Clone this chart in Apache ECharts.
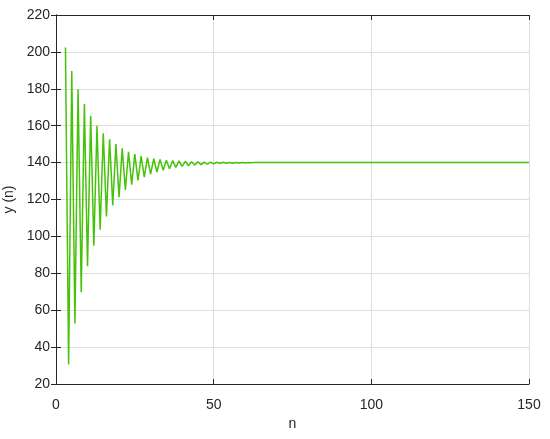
<!DOCTYPE html>
<html>
<head>
<meta charset="utf-8">
<script src="https://cdn.jsdelivr.net/npm/echarts@6/dist/echarts.min.js"></script>
<style>
html,body{margin:0;padding:0;background:#fff;}
#chart{width:550px;height:439px;}
</style>
</head>
<body>
<div id="chart"></div>
<script>
const firstN = 3;
const yValues = [
  202.4, 30.6, 189.7, 52.8, 179.7, 69.7, 171.7, 83.8, 165.4, 95.0,
  160.0, 103.6, 155.9, 110.8, 152.6, 116.8, 150.0, 121.3, 147.7, 125.2,
  145.9, 128.0, 144.6, 130.3, 143.5, 132.1, 142.7, 133.7, 142.1, 134.9,
  141.7, 135.9, 141.3, 136.7, 141.1, 137.4, 140.9, 137.9, 140.7, 138.3,
  140.5, 138.7, 140.4, 138.9, 140.3, 139.1, 140.3, 139.3, 140.2, 139.5,
  140.2, 139.6, 140.1, 139.7, 140.1, 139.8, 140.1, 139.8, 140.0, 139.9,
  140, 140, 140, 140, 140, 140, 140, 140, 140, 140, 140,
  140, 140, 140, 140, 140, 140, 140, 140, 140, 140, 140,
  140, 140, 140, 140, 140, 140, 140, 140, 140, 140, 140,
  140, 140, 140, 140, 140, 140, 140, 140, 140, 140, 140,
  140, 140, 140, 140, 140, 140, 140, 140, 140, 140, 140,
  140, 140, 140, 140, 140, 140, 140, 140, 140, 140, 140,
  140, 140, 140, 140, 140, 140, 140, 140, 140, 140, 140,
  140, 140, 140, 140, 140, 140, 140, 140, 140, 140, 140
];
const xTicks = [0, 50, 100, 150];
const yTicks = [20, 40, 60, 80, 100, 120, 140, 160, 180, 200, 220];
const xName = 'n';
const yName = 'y (n)';

const seriesData = yValues.map((v, i) => [firstN + i, v]);

const fontFamily = '"Liberation Sans", Arial, sans-serif';
const textColor = '#262626';
const gridColor = '#dedede';

const chart = echarts.init(document.getElementById('chart'), null, {renderer: 'canvas'});
const axisLineStyle = {show: true, lineStyle: {color: textColor, width: 1}};
chart.setOption({
  animation: false,
  backgroundColor: '#ffffff',
  grid: {left: 56, right: 21, top: 15, bottom: 55, containLabel: false, outerBoundsMode: 'none'},
  xAxis: [{
    type: 'value',
    min: xTicks[0], max: xTicks[xTicks.length - 1], interval: 50,
    name: xName, nameLocation: 'middle', nameGap: 33,
    nameTextStyle: {color: textColor, fontSize: 14, fontFamily: fontFamily},
    axisLine: axisLineStyle,
    axisTick: {show: true, inside: true, length: 5, lineStyle: {color: textColor}},
    axisLabel: {color: textColor, fontSize: 14, fontFamily: fontFamily, margin: 14},
    splitLine: {show: true, lineStyle: {color: gridColor, width: 1}}
  }, {
    type: 'value', position: 'top',
    min: xTicks[0], max: xTicks[xTicks.length - 1], interval: 50,
    axisLine: axisLineStyle,
    axisTick: {show: true, inside: true, length: 5, lineStyle: {color: textColor}},
    axisLabel: {show: false}, splitLine: {show: false}
  }],
  yAxis: [{
    type: 'value',
    min: yTicks[0], max: yTicks[yTicks.length - 1], interval: 20,
    name: yName, nameLocation: 'middle', nameGap: 32, nameRotate: 90,
    nameTextStyle: {color: textColor, fontSize: 14, fontFamily: fontFamily},
    axisLine: axisLineStyle,
    axisTick: {show: true, inside: true, length: 5, lineStyle: {color: textColor}},
    axisLabel: {color: textColor, fontSize: 14, fontFamily: fontFamily, margin: 6},
    splitLine: {show: true, lineStyle: {color: gridColor, width: 1}}
  }, {
    type: 'value', position: 'right',
    min: yTicks[0], max: yTicks[yTicks.length - 1], interval: 20,
    axisLine: axisLineStyle,
    axisTick: {show: true, inside: true, length: 5, lineStyle: {color: textColor}},
    axisLabel: {show: false}, splitLine: {show: false}
  }],
  series: [{
    type: 'line',
    xAxisIndex: 0, yAxisIndex: 0,
    data: seriesData,
    showSymbol: false,
    symbol: 'none',
    lineStyle: {color: '#46c20a', width: 1.5},
    z: 3
  }]
});
</script>
</body>
</html>
